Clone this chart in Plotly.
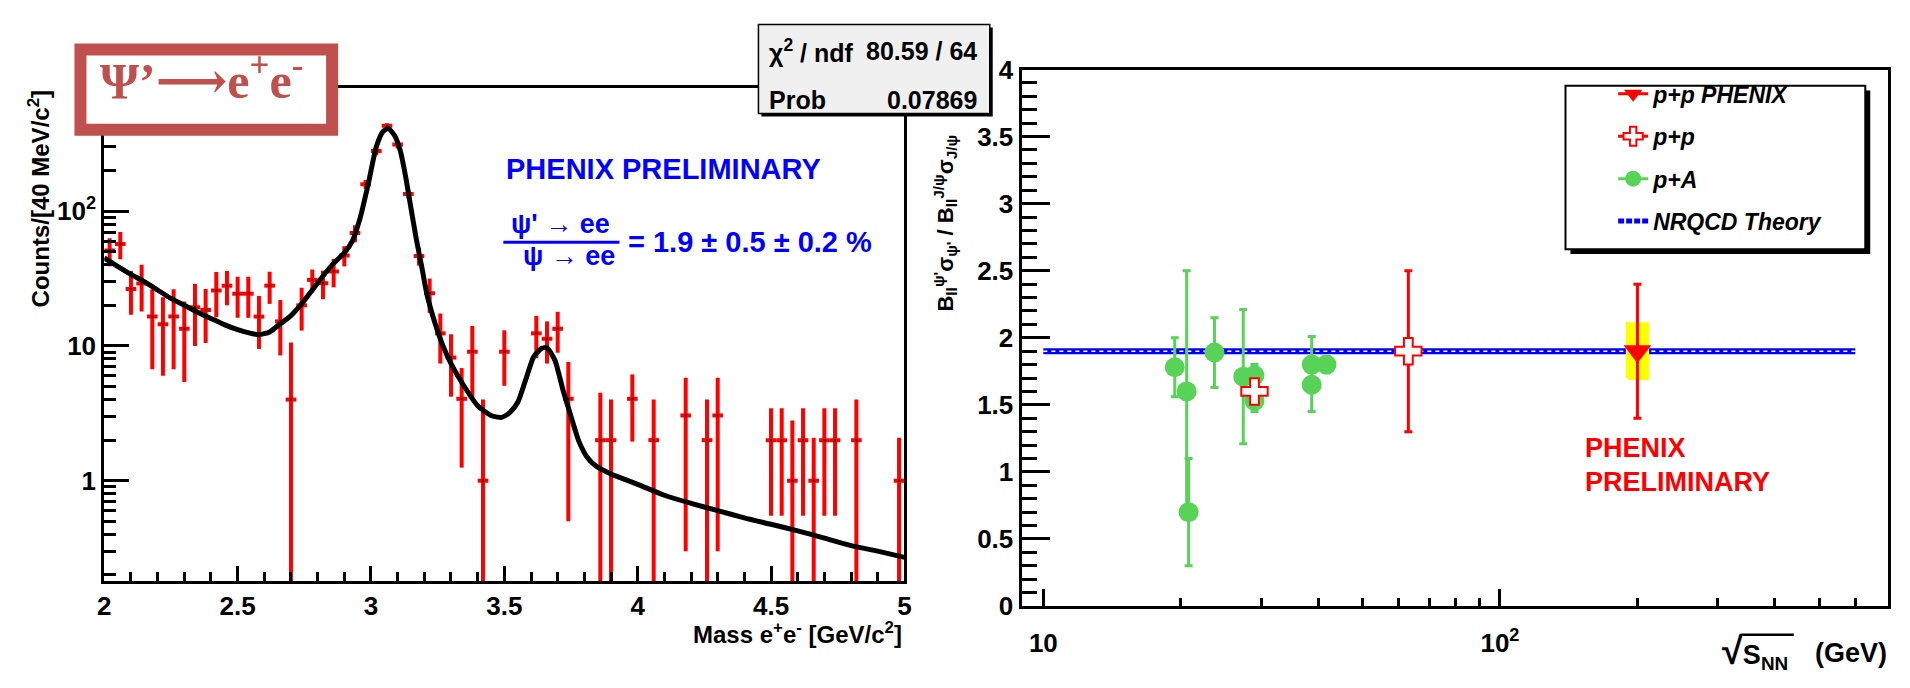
import plotly.graph_objects as go

W, H = 1910, 688
FONT = "Liberation Sans"


def fx(px):
    """pixel column -> paper fraction"""
    return px / W


def fy(py):
    """pixel row (counted from the top) -> paper fraction"""
    return 1 - py / H


# ---------------- left panel: e+e- invariant mass, 40 MeV bins ----------------
mass = [2.02, 2.06, 2.10, 2.14, 2.18, 2.22, 2.26, 2.30, 2.34, 2.38,
        2.42, 2.46, 2.50, 2.54, 2.58, 2.62, 2.66, 2.70, 2.74, 2.78,
        2.82, 2.86, 2.90, 2.94, 2.98, 3.02, 3.06, 3.10, 3.14, 3.18,
        3.22, 3.26, 3.30, 3.34, 3.38, 3.42, 3.50, 3.62, 3.66, 3.70,
        3.74, 3.86, 3.90, 3.98, 4.06, 4.18, 4.26, 4.30, 4.50, 4.54,
        4.58, 4.62, 4.66, 4.70, 4.74, 4.82, 4.98]
counts = [51, 57, 26.5, 29, 16.5, 14.5, 16.5, 13.4, 19.4, 18.5,
          25.8, 28, 24.4, 24.4, 16.5, 28, 15.2, 4.0, 20, 30.9,
          29.2, 35.7, 46.9, 68.7, 158, 280, 430, 312, 134, 46.4,
          24.6, 12.4, 8.2, 4.05, 9.06, 1.0, 9.06, 12.4, 11.3, 13.4,
          4.05, 2.0, 2.0, 4.05, 2.0, 3.05, 2.0, 3.05, 2.0, 2.0,
          1.0, 2.0, 1.0, 2.0, 2.0, 2.0, 1.0]
count_err = [12, 13, 9.5, 11, 9.8, 8.5, 9.8, 8, 9.4, 8,
             9.5, 8, 8.2, 8.2, 7, 7.5, 6.7, 6.6, 7, 6,
             7, 8.5, 8, 10, 12, 20, 18, 20, 10, 7,
             7, 5, 4, 2.8, 5, 3, 4, 4.3, 3.9, 4.5,
             3.55, 2.5, 2.0, 2.1, 2.0, 2.75, 2.0, 2.75, 1.45, 1.45,
             1.8, 1.45, 1.08, 1.45, 1.45, 2.0, 1.08]
bin_half_width = 0.02

fit_mass = [2.00, 2.05, 2.10, 2.15, 2.20, 2.25, 2.30, 2.35, 2.40, 2.45,
            2.50, 2.55, 2.58, 2.62, 2.66, 2.70, 2.74, 2.78, 2.82, 2.86,
            2.90, 2.93, 2.96, 2.99, 3.02, 3.045, 3.065, 3.09, 3.11, 3.13,
            3.15, 3.17, 3.19, 3.21, 3.24, 3.27, 3.30, 3.35, 3.40, 3.45,
            3.49, 3.52, 3.55, 3.58, 3.61, 3.64, 3.66, 3.69, 3.72, 3.75,
            3.78, 3.81, 3.84, 3.90, 4.00, 4.10, 4.20, 4.30, 4.40, 4.50,
            4.60, 4.70, 4.80, 4.90, 5.00]
fit_counts = [45, 39, 34, 30, 26, 22.5, 20, 17.8, 16, 14.4,
              13.2, 12.4, 12.1, 12.7, 14.6, 16.8, 20.5, 26, 33, 41,
              49, 60, 90, 160, 300, 390, 410, 360, 280, 180,
              105, 62, 39, 24, 14.8, 10, 7.4, 5.0, 3.6, 3.05,
              2.95, 3.2, 3.8, 5.6, 8.3, 9.6, 9.7, 7.8, 4.7, 3.0,
              1.95, 1.5, 1.3, 1.12, 0.94, 0.78, 0.68, 0.60, 0.53, 0.475,
              0.425, 0.375, 0.33, 0.30, 0.27]

count_ticks = [1, 10, 100]
count_tick_text = ["1", "10", "10<sup>2</sup>"]
count_minor = [0.2, 0.3, 0.4, 0.5, 0.6, 0.7, 0.8, 0.9,
               2, 3, 4, 5, 6, 7, 8, 9,
               20, 30, 40, 50, 60, 70, 80, 90,
               200, 300, 400, 500, 600, 700, 800]

# ---------------- right panel: psi'/J/psi vs sqrt(s_NN) ----------------
pA_sqrts = [19.4, 20.6, 20.8, 23.7, 27.4, 29.0, 29.0, 38.7, 38.7, 41.7]
pA_ratio = [1.78, 1.60, 0.70, 1.89, 1.71, 1.72, 1.53, 1.80, 1.65, 1.80]
pA_err = [0.22, 0.90, 0.40, 0.26, 0.50, 0.08, 0.08, 0.21, 0.20, 0.06]

pp_sqrts = [29.0, 63.0]
pp_ratio = [1.60, 1.90]
pp_err = [0.06, 0.60]

phenix_sqrts = [200.0]
phenix_ratio = [1.9]
phenix_stat = [0.5]
phenix_sys = [0.2]

nrqcd_sqrts = [10, 600]
nrqcd_ratio = [1.9, 1.9]

sqrts_ticks = [10, 100]
sqrts_tick_text = ["10", "10<sup>2</sup>"]
sqrts_minor = [20, 30, 40, 50, 60, 70, 80, 90, 200, 300, 400, 500, 600]

RED = "#ff0000"
GREEN = "#57d357"
BLUE = "#0000ff"
BOXRED = "#c0504d"

fig = go.Figure()

# histogram points with stat errors and half-bin x errors
fig.add_trace(go.Scatter(
    x=mass, y=counts, mode="markers", xaxis="x", yaxis="y",
    marker=dict(symbol="square", size=2, color="black"),
    error_y=dict(type="data", array=count_err, color=RED, thickness=4, width=0),
    error_x=dict(type="constant", value=bin_half_width, color=RED, thickness=4, width=0),
    showlegend=False, hoverinfo="skip"))

# fit function
fig.add_trace(go.Scatter(
    x=fit_mass, y=fit_counts, mode="lines", xaxis="x", yaxis="y",
    line=dict(color="black", width=5, shape="spline", smoothing=0.6),
    showlegend=False, hoverinfo="skip"))

# NRQCD expectation: blue band with white dashes inside
fig.add_trace(go.Scatter(
    x=nrqcd_sqrts, y=nrqcd_ratio, mode="lines", xaxis="x2", yaxis="y2",
    line=dict(color=BLUE, width=6), showlegend=False, hoverinfo="skip"))
fig.add_trace(go.Scatter(
    x=nrqcd_sqrts, y=nrqcd_ratio, mode="lines", xaxis="x2", yaxis="y2",
    line=dict(color="white", width=1.5, dash="4px,4px"), showlegend=False, hoverinfo="skip"))

# p+A
fig.add_trace(go.Scatter(
    x=pA_sqrts, y=pA_ratio, mode="markers", xaxis="x2", yaxis="y2",
    marker=dict(symbol="circle", size=20, color=GREEN),
    error_y=dict(type="data", array=pA_err, color=GREEN, thickness=3, width=4),
    showlegend=False, hoverinfo="skip"))

# p+p (open crosses)
fig.add_trace(go.Scatter(
    x=pp_sqrts, y=pp_ratio, mode="markers", xaxis="x2", yaxis="y2",
    marker=dict(symbol="cross", size=22, color="white", line=dict(color=RED, width=2)),
    error_y=dict(type="data", array=pp_err, color=RED, thickness=3, width=4),
    showlegend=False, hoverinfo="skip"))

# PHENIX systematic box
sys_x = [phenix_sqrts[0] / 1.05, phenix_sqrts[0] * 1.05, phenix_sqrts[0] * 1.05,
         phenix_sqrts[0] / 1.05, phenix_sqrts[0] / 1.05]
sys_y = [phenix_ratio[0] - phenix_sys[0], phenix_ratio[0] - phenix_sys[0],
         phenix_ratio[0] + phenix_sys[0], phenix_ratio[0] + phenix_sys[0],
         phenix_ratio[0] - phenix_sys[0]]
fig.add_trace(go.Scatter(
    x=sys_x, y=sys_y, mode="lines", fill="toself", fillcolor="#ffff00",
    line=dict(color="#ffff00", width=4), xaxis="x2", yaxis="y2",
    showlegend=False, hoverinfo="skip"))

# PHENIX p+p
fig.add_trace(go.Scatter(
    x=phenix_sqrts, y=phenix_ratio, mode="markers", xaxis="x2", yaxis="y2",
    marker=dict(symbol="triangle-down", size=24, color=RED),
    error_y=dict(type="data", array=phenix_stat, color=RED, thickness=3, width=4),
    showlegend=False, hoverinfo="skip"))

# legend entries
legend_items = [
    ("<i>p</i>+<i>p</i> PHENIX", dict(symbol="triangle-down", size=16, color=RED), RED),
    ("<i>p</i>+<i>p</i>", dict(symbol="cross", size=16, color="white", line=dict(color=RED, width=2)), RED),
    ("<i>p</i>+<i>A</i>", dict(symbol="circle", size=16, color=GREEN), GREEN),
]
for i, (name, mk, col) in enumerate(legend_items):
    fig.add_trace(go.Scatter(
        x=[None], y=[None], mode="lines+markers", name=name, xaxis="x2", yaxis="y2",
        marker=mk, line=dict(color=col, width=3), legendgroup=f"g{i}"))
fig.add_trace(go.Scatter(
    x=[None], y=[None], mode="lines", name="NRQCD Theory", xaxis="x2", yaxis="y2",
    line=dict(color=BLUE, width=5, dash="6px,2px"), legendgroup="g3"))

axis_common = dict(showline=True, linewidth=3, linecolor="black", mirror=True,
                   ticks="inside", tickcolor="black", showgrid=False, zeroline=False,
                   tickfont=dict(family=FONT, size=26, color="black", weight="bold"))

fig.update_layout(
    width=W, height=H,
    margin=dict(l=0, r=0, t=0, b=0),
    paper_bgcolor="white", plot_bgcolor="white",
    font=dict(family=FONT, color="black"),
    xaxis=dict(domain=[fx(98), fx(904)], range=[2, 5], anchor="y",
               dtick=0.5, tick0=2, ticklen=15, tickwidth=3,
               minor=dict(dtick=0.1, tick0=2, ticks="inside", ticklen=9, tickwidth=2.5, tickcolor="black"),
               **axis_common),
    yaxis=dict(domain=[fy(592), fy(76)], type="log", range=[-0.7455, 2.916], anchor="x",
               tickmode="array", tickvals=count_ticks, ticktext=count_tick_text,
               ticklen=25, tickwidth=3,
               minor=dict(tickmode="array", tickvals=count_minor, ticks="inside",
                          ticklen=12, tickwidth=2.5, tickcolor="black"),
               **axis_common),
    xaxis2=dict(domain=[fx(1022), fx(1895)], type="log", range=[0.9522, 2.85], anchor="y2",
                tickmode="array", tickvals=sqrts_ticks, ticktext=sqrts_tick_text,
                ticklen=17, tickwidth=3, ticklabelstandoff=12,
                minor=dict(tickmode="array", tickvals=sqrts_minor, ticks="inside",
                           ticklen=8, tickwidth=2.5, tickcolor="black"),
                **axis_common),
    yaxis2=dict(domain=[fy(618), fy(57)], range=[0, 4], anchor="x2",
                dtick=0.5, tick0=0, ticklen=28, tickwidth=3,
                minor=dict(dtick=0.1, tick0=0, ticks="inside", ticklen=15, tickwidth=2.5, tickcolor="black"),
                **axis_common),
    showlegend=True,
    legend=dict(x=fx(1618), y=fy(60), xanchor="left", yanchor="top",
                bgcolor="rgba(0,0,0,0)", borderwidth=0,
                font=dict(family=FONT, size=23, color="black", weight="bold", style="italic"),
                tracegroupgap=9.5, traceorder="grouped"),
)

shapes = []
# title box
shapes.append(dict(type="rect", xref="paper", yref="paper", layer="above",
                   x0=fx(74), x1=fx(327.5), y0=fy(120), y1=fy(36),
                   line=dict(color=BOXRED, width=12), fillcolor="white"))
# fit statistics box with shadow
shapes.append(dict(type="rect", xref="paper", yref="paper", layer="above",
                   x0=fx(760), x1=fx(993), y0=fy(106), y1=fy(13),
                   line=dict(width=0), fillcolor="black"))
shapes.append(dict(type="rect", xref="paper", yref="paper", layer="above",
                   x0=fx(757), x1=fx(990), y0=fy(103), y1=fy(10),
                   line=dict(color="black", width=1.5), fillcolor="#f0f0f0"))
# legend frame with shadow
shapes.append(dict(type="rect", xref="paper", yref="paper", layer="above",
                   x0=fx(1575), x1=fx(1877), y0=fy(250), y1=fy(79),
                   line=dict(width=0), fillcolor="black"))
shapes.append(dict(type="rect", xref="paper", yref="paper", layer="above",
                   x0=fx(1570), x1=fx(1872), y0=fy(245), y1=fy(74),
                   line=dict(color="black", width=2), fillcolor="white"))
# fraction bar
shapes.append(dict(type="line", xref="paper", yref="paper", layer="above",
                   x0=fx(500), x1=fx(617), y0=fy(237.7), y1=fy(237.7),
                   line=dict(color=BLUE, width=3)))
# overline of the square root
shapes.append(dict(type="line", xref="paper", yref="paper", layer="above",
                   x0=fx(1748), x1=fx(1800), y0=fy(648), y1=fy(648),
                   line=dict(color="black", width=2.5)))
fig.update_layout(shapes=shapes)


def note(text, x, y, size, color="black", xanchor="center", yanchor="middle",
         bold=True, family=FONT, angle=0):
    fig.add_annotation(text=text, x=fx(x), y=fy(y), xref="paper", yref="paper",
                       xanchor=xanchor, yanchor=yanchor, showarrow=False, textangle=angle,
                       font=dict(family=family, size=size, color=color,
                                 weight="bold" if bold else "normal"))


note("Ψ’<span style='font-family:DejaVu Serif'>⟶</span>e<sup>+</sup>e<sup>-</sup>",
     196, 66, 50, color=BOXRED, family="Liberation Serif")
note("χ<sup>2</sup> / ndf", 766, 38, 25, xanchor="left")
note("80.59 / 64", 979, 38, 25, xanchor="right")
note("Prob", 766, 89, 25, xanchor="left")
note("0.07869", 979, 89, 25, xanchor="right")

note("PHENIX PRELIMINARY", 501, 161, 29, color=BLUE, xanchor="left")
note("ψ' → ee", 558, 219, 27, color=BLUE)
note("ψ → ee", 566, 252, 27, color=BLUE)
note("= 1.9 ± 0.5 ± 0.2 %", 624, 237, 29, color=BLUE, xanchor="left")

note("Counts/[40 MeV/c<sup>2</sup>]", 32, 192, 24, angle=-90)
note("Mass e<sup>+</sup>e<sup>-</sup> [GeV/c<sup>2</sup>]", 904, 646, 24, xanchor="right")

note("B<sub>ll</sub><sup>ψ'</sup>σ<sub>ψ'</sub> / B<sub>ll</sub><sup>J/ψ</sup>σ<sub>J/ψ</sub>",
     945, 218, 22, angle=-90)
note("<span style='font-size:38px'>√</span>S<sub>NN</sub>", 1726, 666, 27, xanchor="left")
note("(GeV)", 1896, 667, 27, xanchor="right")

note("PHENIX", 1588, 453, 27, color=RED, xanchor="left")
note("PRELIMINARY", 1588, 488, 27, color=RED, xanchor="left")

fig.write_html("out.html")
